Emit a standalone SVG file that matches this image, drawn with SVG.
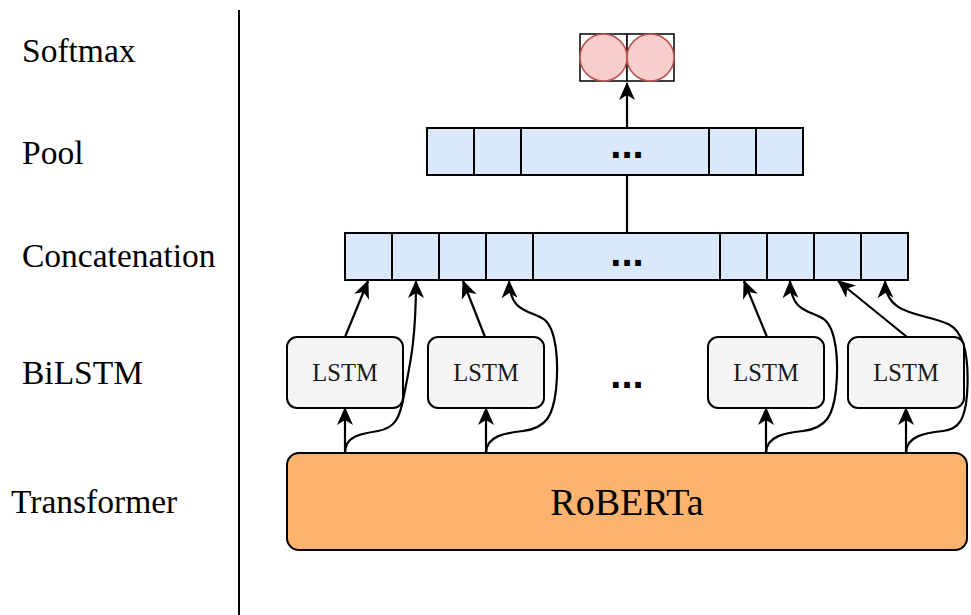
<svg xmlns="http://www.w3.org/2000/svg" width="971" height="615" viewBox="0 0 971 615">
<defs>
<style>
.lbl{font-family:"Liberation Serif","Times New Roman",serif;font-size:33.5px;fill:#000}
.cell{fill:#DAE8FC;stroke:#000;stroke-width:2}
.lstm{fill:#F5F5F5;stroke:#000;stroke-width:2}
.lstmt{font-family:"Liberation Serif","Times New Roman",serif;font-size:24.5px;fill:#1a1a1a;text-anchor:middle}
.dots{font-family:"Liberation Sans",Arial,sans-serif;font-weight:bold;font-size:40px;fill:#000;text-anchor:middle}
.con{fill:none;stroke:#000;stroke-width:2.2}
.arr{marker-end:url(#ah)}
</style>
<marker id="ah" markerUnits="userSpaceOnUse" markerWidth="18" markerHeight="16" refX="17" refY="8" orient="auto">
<path d="M0,0 L18,8 L0,16 L5,8 z" fill="#000"/>
</marker>
</defs>
<rect width="971" height="615" fill="#fff"/>

<g id="layer-labels">
<text class="lbl" x="22" y="62">Softmax</text>
<text class="lbl" x="22" y="164">Pool</text>
<text class="lbl" x="22" y="267">Concatenation</text>
<text class="lbl" x="22" y="384">BiLSTM</text>
<text class="lbl" x="11" y="513">Transformer</text>
</g>
<line x1="239" y1="10" x2="239" y2="615" stroke="#000" stroke-width="2"/>

<g id="connectors">
<path class="con arr" d="M627,128 L627,83"/>
<path class="con" d="M627,175 L627,233"/>
<!-- LSTM 1 -->
<path class="con arr" d="M345,453 L345,408"/>
<path class="con arr" d="M345,337 L368,281"/>
<path class="con arr" d="M345,453 C345,436 360,434 378,431 C395,428 400,418 404,395 C410,365 416,340 416,281"/>
<!-- LSTM 2 -->
<path class="con arr" d="M486,453 L486,408"/>
<path class="con arr" d="M485,337 L463,281"/>
<path class="con arr" d="M486,453 C486,436 505,433 523,431 C547,428 553,415 556,390 C559,360 556,330 545,320 C532,310 510,314 509,281"/>
<!-- LSTM 3 -->
<path class="con arr" d="M766,453 L766,408"/>
<path class="con arr" d="M767,337 L744,281"/>
<path class="con arr" d="M766,453 C766,436 785,433 803,431 C827,428 833,415 836,390 C839,360 836,330 825,320 C812,310 791,314 790,281"/>
<!-- LSTM 4 -->
<path class="con arr" d="M906,453 L906,408"/>
<path class="con arr" d="M907,337 L838,281"/>
<path class="con arr" d="M906,453 C906,436 925,433 943,431 C960,429 965,418 967,395 C969,365 967,335 950,325 C925,312 886,318 885,281"/>
</g>

<g id="softmax">
<rect x="580" y="34" width="47" height="47" fill="#fff" stroke="#000" stroke-width="1.5"/>
<rect x="627" y="34" width="47" height="47" fill="#fff" stroke="#000" stroke-width="1.5"/>
<circle cx="603.5" cy="57.5" r="23.5" fill="#F8CECC" stroke="#B85450" stroke-width="1.5"/>
<circle cx="650.5" cy="57.5" r="23.5" fill="#F8CECC" stroke="#B85450" stroke-width="1.5"/>
</g>

<g id="pool">
<rect class="cell" x="427" y="128" width="47" height="47"/>
<rect class="cell" x="474" y="128" width="47" height="47"/>
<rect class="cell" x="521" y="128" width="188" height="47"/>
<rect class="cell" x="709" y="128" width="47" height="47"/>
<rect class="cell" x="756" y="128" width="47" height="47"/>
<text class="dots" x="627" y="158">...</text>
</g>

<g id="concatenation">
<rect class="cell" x="345" y="233" width="47" height="47"/>
<rect class="cell" x="392" y="233" width="47" height="47"/>
<rect class="cell" x="439" y="233" width="47" height="47"/>
<rect class="cell" x="486" y="233" width="47" height="47"/>
<rect class="cell" x="533" y="233" width="187" height="47"/>
<rect class="cell" x="720" y="233" width="47" height="47"/>
<rect class="cell" x="767" y="233" width="47" height="47"/>
<rect class="cell" x="814" y="233" width="47" height="47"/>
<rect class="cell" x="861" y="233" width="47" height="47"/>
<text class="dots" x="627" y="266">...</text>
</g>

<g id="lstm1">
<rect class="lstm" x="287" y="337" width="116" height="71" rx="10"/>
<text class="lstmt" x="345" y="381">LSTM</text>
</g>
<g id="lstm2">
<rect class="lstm" x="428" y="337" width="116" height="71" rx="10"/>
<text class="lstmt" x="486" y="381">LSTM</text>
</g>
<g id="lstm-dots">
<text class="dots" x="627" y="388">...</text>
</g>
<g id="lstm3">
<rect class="lstm" x="708" y="337" width="116" height="71" rx="10"/>
<text class="lstmt" x="766" y="381">LSTM</text>
</g>
<g id="lstm4">
<rect class="lstm" x="848" y="337" width="116" height="71" rx="10"/>
<text class="lstmt" x="906" y="381">LSTM</text>
</g>

<g id="roberta">
<rect x="287" y="453" width="680" height="97" rx="12" fill="#FBB36E" stroke="#000" stroke-width="2"/>
<text x="627" y="515" font-family="'Liberation Serif','Times New Roman',serif" font-size="38" text-anchor="middle" fill="#000">RoBERTa</text>
</g>
</svg>
